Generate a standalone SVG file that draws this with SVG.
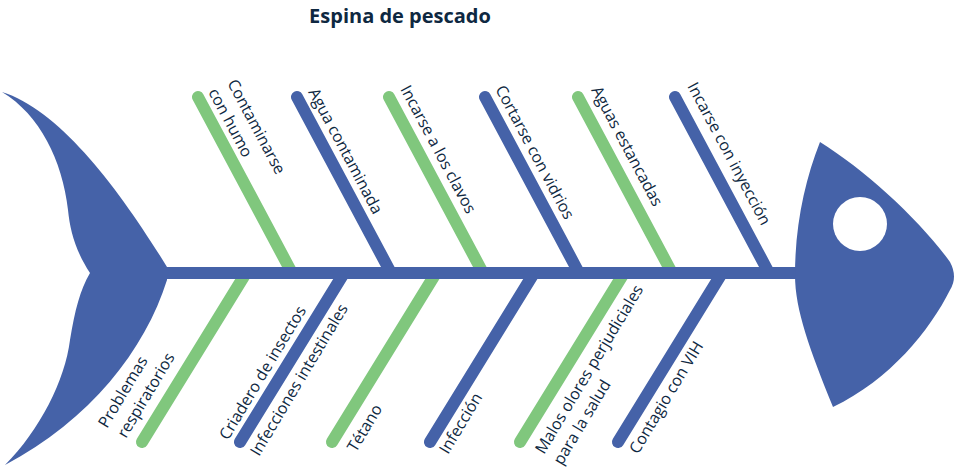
<svg xmlns="http://www.w3.org/2000/svg" width="958" height="472" viewBox="0 0 958 472">
<defs>
<style>
.bb{stroke:#4562A8;stroke-width:12;stroke-linecap:round;fill:none}
.gb{stroke:#80C77D;stroke-width:12;stroke-linecap:round;fill:none}
.fish{fill:#4562A8}
.lbl{font-family:"Open Sans","Noto Sans",sans-serif;font-size:16px;fill:#0E2841}
.title{font-family:"Open Sans","Noto Sans",sans-serif;font-size:20px;font-weight:700;fill:#0E2841}
</style>
</defs>
<rect width="958" height="472" fill="#FFFFFF"/>
<text class="title" x="400" y="23" text-anchor="middle">Espina de pescado</text>
<g id="connectors">
<line class="gb" x1="198" y1="97" x2="292" y2="273"/>
<line class="bb" x1="297" y1="97" x2="391" y2="273"/>
<line class="gb" x1="389" y1="97" x2="483" y2="273"/>
<line class="bb" x1="485" y1="97" x2="579" y2="273"/>
<line class="gb" x1="578" y1="97" x2="672" y2="273"/>
<line class="bb" x1="675" y1="97" x2="769" y2="273"/>
<line class="gb" x1="246" y1="273" x2="142" y2="442"/>
<line class="bb" x1="344" y1="273" x2="240" y2="442"/>
<line class="gb" x1="436" y1="273" x2="332" y2="442"/>
<line class="bb" x1="534" y1="273" x2="430" y2="442"/>
<line class="gb" x1="624" y1="273" x2="520" y2="442"/>
<line class="bb" x1="722" y1="273" x2="618" y2="442"/>
</g>
<g id="tail">
<path class="fish" d="M2,92 C60,110 120,190 167,267 L167,280 C145,350 90,420 5,465 C40,430 65,380 70,340 C75,310 80,290 90,273 C75,250 70,230 68,210 C62,160 40,115 2,92 Z"/>
</g>
<g id="spine">
<rect class="fish" x="160" y="267" width="642" height="12"/>
</g>
<g id="head">
<path class="fish" d="M820,142 C865,170 920,220 950,262 Q958,277 950,290 C930,330 890,380 833,407 C810,350 795,310 795,275 C795,225 805,180 820,142 Z"/>
<circle cx="860" cy="224" r="27" fill="#FFFFFF"/>
</g>
<g id="top-labels">
<g id="t1"><text class="lbl" transform="translate(227,83) rotate(62)">Contaminarse</text><text class="lbl" transform="translate(208,92) rotate(62)">con humo</text></g>
<g id="t2"><text class="lbl" transform="translate(308,92) rotate(62)">Agua contaminada</text></g>
<g id="t3"><text class="lbl" transform="translate(400,89) rotate(62)">Incarse a los clavos</text></g>
<g id="t4"><text class="lbl" transform="translate(495,89) rotate(62)">Cortarse con vidrios</text></g>
<g id="t5"><text class="lbl" transform="translate(591,90) rotate(62)">Aguas estancadas</text></g>
<g id="t6"><text class="lbl" transform="translate(687,86) rotate(62)">Incarse con inyección</text></g>
</g>
<g id="bottom-labels">
<g id="b1"><text class="lbl" transform="translate(107,429) rotate(-59)">Problemas</text><text class="lbl" transform="translate(126,439) rotate(-59)">respiratorios</text></g>
<g id="b2"><text class="lbl" transform="translate(228,441) rotate(-59)">Criadero de insectos</text></g>
<g id="b3"><text class="lbl" transform="translate(259,457) rotate(-59)">Infecciones intestinales</text></g>
<g id="b4"><text class="lbl" transform="translate(356,453) rotate(-59)">Tétano</text></g>
<g id="b5"><text class="lbl" transform="translate(448,455) rotate(-59)">Infección</text></g>
<g id="b6"><text class="lbl" transform="translate(544,455) rotate(-59)">Malos olores perjudiciales</text><text class="lbl" transform="translate(562,466) rotate(-59)">para la salud</text></g>
<g id="b7"><text class="lbl" transform="translate(638,455) rotate(-59)">Contagio con VIH</text></g>
</g>
</svg>
